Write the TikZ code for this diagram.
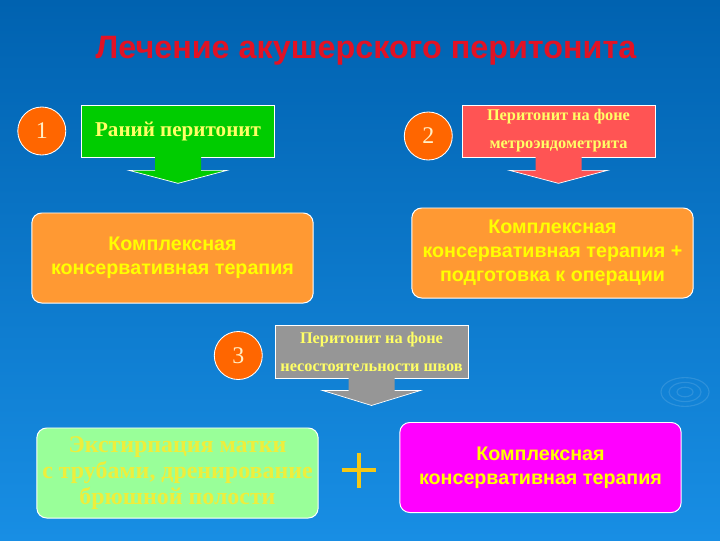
\documentclass[tikz,border=0pt]{standalone}
\usepackage{fontspec}
\setmainfont{Liberation Serif}
\setsansfont{Liberation Sans}
\usetikzlibrary{positioning,calc}
\definecolor{slidetop}{RGB}{0,98,176}
\definecolor{slidebottom}{RGB}{24,142,228}
\definecolor{titlered}{RGB}{226,18,36}
\definecolor{boxgreen}{RGB}{0,204,0}
\definecolor{boxred}{RGB}{255,84,84}
\definecolor{boxorange}{RGB}{255,153,51}
\definecolor{boxgray}{RGB}{150,150,150}
\definecolor{boxlime}{RGB}{153,255,153}
\definecolor{boxmagenta}{RGB}{255,0,255}
\definecolor{numorange}{RGB}{255,102,0}
\definecolor{numtext}{RGB}{255,240,200}
\definecolor{txtyellow}{RGB}{255,255,0}
\definecolor{paleyellow}{RGB}{255,255,102}
\definecolor{dimyellow}{RGB}{238,238,60}
\definecolor{plusyellow}{RGB}{245,200,20}
\newcommand{\downcallout}[4]{%
\fill[#2] ($(#1.south)+(-23,-1)$) -- ($(#1.south)+(-23,#3)$) -- ($(#1.south)+(-49,#3)$) -- ($(#1.south)+(0,#3+#4)$) -- ($(#1.south)+(49,#3)$) -- ($(#1.south)+(23,#3)$) -- ($(#1.south)+(23,-1)$) -- cycle;
\draw[white,line width=.5pt] ($(#1.south)+(-23,#3)$) -- ($(#1.south)+(-49,#3)$) -- ($(#1.south)+(0,#3+#4)$) -- ($(#1.south)+(49,#3)$) -- ($(#1.south)+(23,#3)$);}
\begin{document}
\begin{tikzpicture}[x=0.025cm,y=-0.025cm]
\tikzstyle{num}=[circle,draw=white,line width=.6pt,fill=numorange,minimum size=1.2cm,inner sep=0pt,text=numtext,font=\fontsize{17}{17}\selectfont]
\tikzstyle{stage}=[draw=white,line width=.5pt,align=center,minimum width=4.82cm,minimum height=1.3cm,inner sep=0pt,text=paleyellow,font=\bfseries]
\tikzstyle{treat}=[draw=white,line width=.7pt,rounded corners=7pt,align=center,minimum width=7.03cm,minimum height=2.25cm,inner sep=0pt,text=txtyellow,font=\sffamily\bfseries\fontsize{14}{17}\selectfont]
\shade[top color=slidetop,bottom color=slidebottom] (0,0) rectangle (720,540);
\useasboundingbox (0,0) rectangle (720,540);
\foreach \r in {8,16,24} \draw[white,opacity=.12,line width=.8pt] (685,392) ellipse ({\r} and {\r*0.6});
\node[font=\sffamily\bfseries\fontsize{23}{27}\selectfont,text=titlered] (title) at (366,51) {Лечение акушерского перитонита};
\node[stage,fill=boxgreen,font=\bfseries\fontsize{15}{18}\selectfont] (early) at (178,131) {Раний перитонит};
\node[num,left=3.75mm of early] (n1) {1};
\node[stage,fill=boxred,font=\bfseries\fontsize{11.6}{20}\selectfont] (metro) at (558.5,131) {Перитонит на фоне\\метроэндометрита};
\node[num,left=2.25mm of metro,yshift=-1.25mm] (n2) {2};
\node[stage,fill=boxgray,minimum height=1.33cm,font=\bfseries\fontsize{11.6}{20}\selectfont] (suture) at (371.5,351.5) {Перитонит на фоне\\несостоятельности швов};
\node[num,left=3mm of suture,yshift=-1mm] (n3) {3};
\downcallout{early}{boxgreen}{13}{13}
\downcallout{metro}{boxred}{13}{13}
\downcallout{suture}{boxgray}{12}{15}
\node[treat,fill=boxorange] (cons1) at (172.5,258) {Комплексная\\консервативная терапия};
\node[treat,fill=boxorange] (cons2) at (552.5,253) {Комплексная\\консервативная терапия +\\подготовка к операции};
\node[treat,fill=boxlime,text=dimyellow,font=\bfseries\fontsize{17}{18.5}\selectfont] (surg) at (177.5,473) {Экстирпация матки\\с трубами, дренирование\\брюшной полости};
\node[treat,fill=boxmagenta] (cons3) at (540.5,467.5) {Комплексная\\консервативная терапия};
\node[minimum size=0.85cm,inner sep=0pt] (plus) at ($(surg.east)!0.5!(cons3.west)$) {};
\draw[plusyellow,line width=3pt] (plus.west) -- (plus.east) (plus.north) -- (plus.south);
\end{tikzpicture}
\end{document}
